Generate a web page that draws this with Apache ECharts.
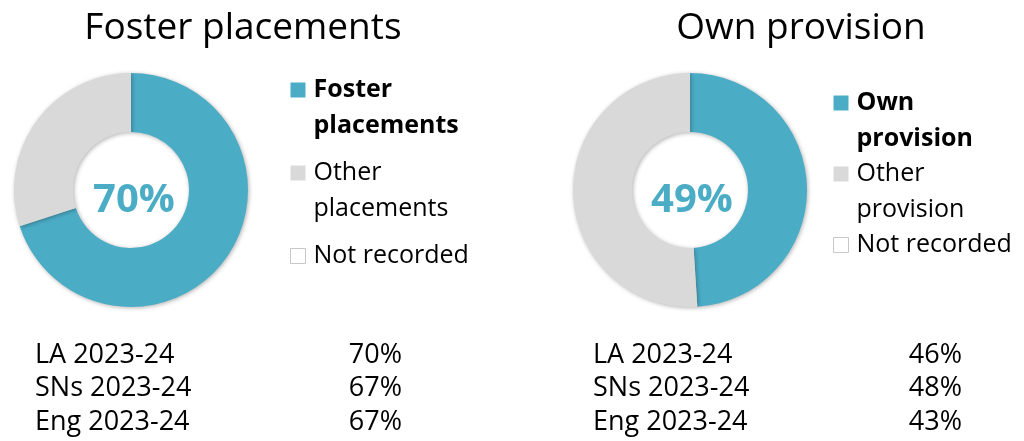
<!DOCTYPE html>
<html>
<head>
<meta charset="utf-8">
<script src="https://cdn.jsdelivr.net/npm/echarts@6/dist/echarts.min.js"></script>
<style>
  html, body { margin: 0; padding: 0; background: #fff; }
  #chart { width: 1024px; height: 441px; }
</style>
</head>
<body>
<div id="chart"></div>
<script>
// data
const fosterNames = ['Foster placements', 'Other placements', 'Not recorded'];
const fosterValues = [70, 30, 0];
const provisionNames = ['Own provision', 'Other provision', 'Not recorded'];
const provisionValues = [49, 51, 0];
const rowLabels = ['LA 2023-24', 'SNs 2023-24', 'Eng 2023-24'];
const fosterRows = ['70%', '67%', '67%'];
const provisionRows = ['46%', '48%', '43%'];

// legend text, wrapped; the blank line keeps the swatch level with the first line
const legendText = {
  'Foster placements': '\nFoster\nplacements',
  'Other placements': '\nOther\nplacements',
  'Own provision': '\nOwn\nprovision',
  'Other provision': '\nOther\nprovision',
  'Not recorded': '\nNot recorded\n'
};

const FONT = '"Open Sans", "Noto Sans", sans-serif';
const BLUE = '#4bacc6';
const GREY = '#d9d9d9';
const colors = [BLUE, GREY, '#ffffff'];

function pieSeries(names, values, cx) {
  return {
    type: 'pie',
    center: [cx, 190],
    radius: [58, 117],
    startAngle: 90,
    clockwise: true,
    silent: true,
    label: { show: false },
    labelLine: { show: false },
    emphasis: { disabled: true },
    itemStyle: {
      shadowBlur: 4, shadowColor: 'rgba(0,0,0,0.3)',
      shadowOffsetX: 1, shadowOffsetY: 1
    },
    data: names.map((n, i) => ({ name: n, value: values[i], itemStyle: { color: colors[i] } }))
  };
}

function legendFor(names, left, top, gap) {
  return {
    orient: 'vertical',
    left: left, top: top,
    padding: 0,
    itemGap: gap,
    itemWidth: 15, itemHeight: 15,
    icon: 'rect',
    selectedMode: false,
    formatter: n => legendText[n],
    textStyle: { fontSize: 25, lineHeight: 36, color: '#000', fontFamily: FONT, padding: [0, 0, 0, 3] },
    data: names.map((n, i) => {
      const item = { name: n };
      if (i === 0) item.textStyle = { fontWeight: 'bold' };
      if (i === 2) item.itemStyle = { color: '#ffffff', borderColor: '#c8c8c8', borderWidth: 1 };
      return item;
    })
  };
}

function centerLabel(value, x) {
  return { type: 'text', x: x, y: 201,
    style: { text: value + '%', fontSize: 40, fontWeight: 'bold', fontFamily: FONT,
      fill: BLUE, align: 'center', verticalAlign: 'middle' } };
}

function tableGraphics(labels, vals, xl, xr) {
  const out = [];
  labels.forEach((l, i) => {
    const y = 355 + i * 33.5;
    out.push({ type: 'text', x: xl, y: y,
      style: { text: l, fontSize: 27, fontFamily: FONT, fill: '#000', align: 'left', verticalAlign: 'middle' } });
    out.push({ type: 'text', x: xr, y: y,
      style: { text: vals[i], fontSize: 27, fontFamily: FONT, fill: '#000', align: 'right', verticalAlign: 'middle' } });
  });
  return out;
}

const chart = echarts.init(document.getElementById('chart'));
chart.setOption({
  animation: false,
  backgroundColor: '#fff',
  title: [
    { text: 'Foster placements', left: 238, top: 5, textAlign: 'center',
      textStyle: { fontSize: 37, fontWeight: 'normal', color: '#000', fontFamily: FONT } },
    { text: 'Own provision', left: 796, top: 5, textAlign: 'center',
      textStyle: { fontSize: 37, fontWeight: 'normal', color: '#000', fontFamily: FONT } }
  ],
  legend: [
    legendFor(fosterNames, 290, 36, -25),
    legendFor(provisionNames, 833, 49, -37)
  ],
  series: [
    pieSeries(fosterNames, fosterValues, 131),
    pieSeries(provisionNames, provisionValues, 690)
  ],
  graphic: [].concat(
    [centerLabel(fosterValues[0], 134), centerLabel(provisionValues[0], 692)],
    tableGraphics(rowLabels, fosterRows, 35, 402),
    tableGraphics(rowLabels, provisionRows, 593, 962)
  )
});
</script>
</body>
</html>
